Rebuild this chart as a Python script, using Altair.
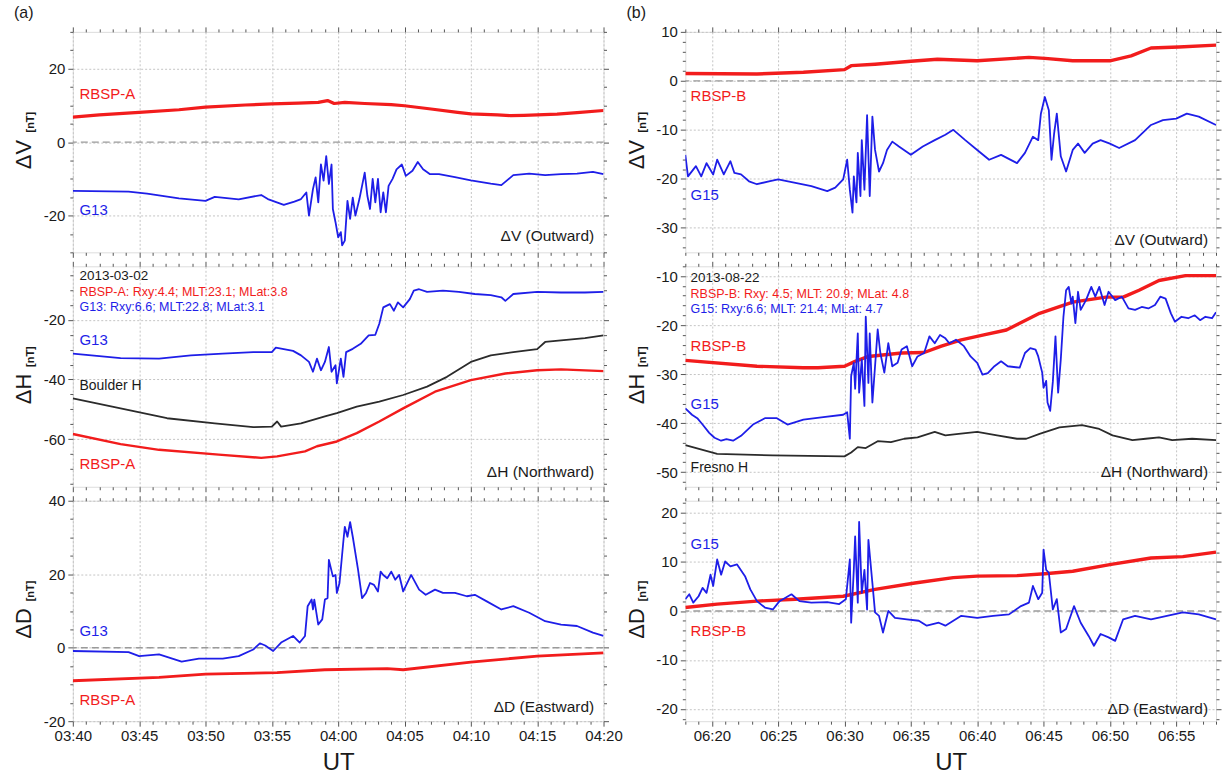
import math
import altair as alt
import pandas as pd

FONT = "Liberation Sans"
RED, BLUE, BLACK, INK = "#f21c1c", "#1e1ee8", "#2b2b2b", "#1a1a1a"

# ---------------- (a) 2013-03-02, minutes after 03:40 UT ----------------
aV_rbsp_t = [0, 2, 5, 8, 10, 13, 15, 17, 18.5, 19.2, 19.7, 20.5, 22, 24, 25, 27, 29, 30, 32, 33, 34, 35, 36.5, 38, 40]
aV_rbsp_v = [6.8, 7.4, 8.1, 8.8, 9.5, 10.1, 10.4, 10.6, 10.8, 11.3, 10.5, 10.8, 10.5, 10.2, 9.9, 9.0, 8.1, 7.7, 7.4, 7.2, 7.3, 7.4, 7.6, 8.0, 8.6]
aV_g13_t = [0, 4.2, 5.6, 8, 10, 10.7, 12.5, 14.2, 14.7, 15.9, 16.7, 17.2, 17.6, 17.8, 18.1, 18.3, 18.5, 18.7, 18.9, 19.1,
            19.3, 19.5, 19.6, 19.8, 20, 20.2, 20.3, 20.5, 20.7, 20.9, 21.1, 21.3, 21.6, 21.8, 22, 22.2, 22.4, 22.6, 22.8, 23,
            23.2, 23.4, 23.6, 23.8, 24.1, 24.4, 24.8, 25.1, 25.6, 26, 26.4, 26.9, 27.6, 28.8, 30, 31.5, 32.3, 33.2, 34.4, 35.6,
            36.8, 38, 39.2, 40]
aV_g13_v = [-13.3, -13.5, -14, -15.3, -16, -14.9, -15.6, -14.4, -15.5, -17.1, -16.2, -15.5, -13.7, -20, -12.8, -9.6, -16.4, -6.1, -10.5, -3.8,
            -11.4, -6.1, -18.2, -21.8, -25.9, -24.5, -28.1, -26.8, -16, -20.9, -15.1, -20, -15.5, -11.9, -8.3, -14.6, -18.2, -10, -16.4, -10,
            -19.1, -13.7, -19.1, -11.9, -10, -7.4, -6.1, -9.2, -7.8, -5.4, -7.4, -8.7, -8.7, -9.5, -10.4, -11.3, -11.7, -9, -8.6, -9,
            -8.7, -8.6, -8.1, -8.7]

aH_g13_t = [0, 3.6, 6.5, 8.9, 11.3, 13.6, 15, 15.3, 16.6, 17.2, 17.8, 18.1, 18.4, 18.7, 19, 19.3, 19.5, 19.8, 19.9, 20.2,
            20.4, 20.6, 21.1, 21.7, 22.3, 22.8, 23.1, 23.4, 23.9, 24.2, 24.5, 24.9, 25.4, 25.7, 26.1, 26.7, 27.9, 29.1, 30.3, 31.5,
            32.3, 32.6, 33.2, 35, 36.8, 38.6, 40]
aH_g13_v = [-31.3, -32.8, -33, -31.9, -31.3, -30.8, -30.8, -29.3, -30.4, -31.9, -34.1, -37.4, -33, -36.9, -34.1, -29.1, -37.4, -35.2, -41.3, -33,
            -39.1, -30.8, -29.7, -28, -25.2, -25, -21.3, -15.8, -14.7, -16.9, -14.1, -15.8, -13, -10.2, -9.7, -10.6, -10.2, -10.6, -11.3, -11.7,
            -12.4, -13.6, -11.3, -10.6, -10.8, -10.8, -10.6]
aH_bou_t = [0, 3.6, 7.1, 10.7, 13.6, 15, 15.4, 15.7, 17.2, 19, 19.9, 21.4, 23.1, 24.9, 26.7, 28.2, 30, 31.5, 33.2, 35, 35.6, 36.8, 38.6, 40]
aH_bou_v = [-46.3, -49.7, -53, -54.7, -56, -55.8, -54.1, -55.8, -54.7, -52.4, -51.3, -49.1, -47.4, -45.2, -42.4, -39.1, -34.1, -31.9, -30.8, -29.8, -27.4, -26.9, -26.1, -25.2]
aH_rbsp_t = [0, 3.6, 6.5, 11, 14.2, 15.4, 17.5, 18.4, 19.9, 21.4, 23.1, 24.9, 27.3, 30, 32.6, 35, 36.8, 40]
aH_rbsp_v = [-58.3, -61.7, -63.6, -65.2, -66.3, -65.8, -64.1, -62.4, -60.8, -58, -54.1, -49.7, -44.1, -40.2, -38, -36.9, -36.6, -37.2]

aD_rbsp_t = [0, 6.5, 10, 15.4, 19, 23.7, 24.9, 30, 35, 40]
aD_rbsp_v = [-9, -8.1, -7.2, -6.8, -6, -5.7, -6, -3.9, -2.3, -1.4]
aD_g13_t = [0, 4.2, 5, 6.5, 8.2, 9.5, 11.3, 12.5, 13.6, 14.1, 14.5, 15.1, 15.7, 16.6, 17.1, 17.5, 17.7, 18, 18.1, 18.2,
            18.5, 18.8, 19, 19.2, 19.3, 19.6, 19.8, 19.9, 20.1, 20.4, 20.5, 20.7, 20.9, 21.1, 21.5, 21.8, 22.1, 22.4, 22.7, 23,
            23.2, 23.4, 23.7, 24, 24.3, 24.6, 24.9, 25.5, 26.1, 26.6, 27.3, 27.9, 28.8, 29.7, 30.3, 31.2, 32.3, 33.2, 34.4, 35.6,
            36.8, 38, 39.2, 40]
aD_g13_v = [-0.9, -1.2, -2.3, -1.8, -3.8, -3, -3, -2.3, -0.5, 1.2, 0.6, -0.9, 1.4, 3.2, 1.4, 3.2, 11.3, 13.1, 10.4, 13.1,
            6.3, 7.7, 13.1, 13.5, 23.9, 19.4, 19.8, 14.9, 17.6, 29.3, 32.9, 30.2, 34.2, 30.2, 21.2, 13.5, 14.9, 17.6, 17.1, 15.3,
            20.7, 19.8, 18.9, 20.7, 18.5, 19.8, 15.3, 19.8, 15.8, 14.4, 15.8, 14.9, 14.9, 14, 14.4, 12.6, 10.4, 11.3, 9.5, 7.2,
            6.3, 5.9, 4.1, 3.2]

# ---------------- (b) 2013-08-22, minutes after 06:18 UT ----------------
bV_rbsp_t = [0, 5.4, 8.9, 12, 12.5, 14.3, 17, 19, 22, 25.9, 27.1, 29.2, 32, 33.6, 35.1, 37.2, 40]
bV_rbsp_v = [1.5, 1.4, 1.75, 2.3, 3.1, 3.4, 4, 4.4, 4.1, 4.8, 4.6, 4.1, 4.1, 5.1, 6.7, 6.9, 7.3]
bV_g15_t = [0, 0.2, 0.8, 1.2, 1.6, 2.1, 2.4, 2.9, 3.4, 3.7, 4.2, 4.8, 5.4, 6.3, 7, 8.3, 9.5, 10.7, 11.3, 11.9,
            12.2, 12.4, 12.6, 12.7, 12.9, 13, 13.2, 13.3, 13.5, 13.7, 13.9, 14.1, 14.3, 14.6, 14.9, 15.2, 15.6, 16.1, 17, 17.9,
            18.8, 19.6, 20.2, 21.1, 22, 22.9, 23.8, 25, 25.6, 26.2, 26.6, 26.8, 27.1, 27.4, 27.6, 27.8, 28, 28.3, 28.7, 29.2,
            29.6, 30.1, 30.7, 31.3, 32, 32.7, 33.9, 35.1, 36, 37, 37.8, 38.7, 40]
bV_g15_v = [-15.1, -19.5, -17.4, -19.5, -16.8, -19.1, -16.1, -19.1, -16.4, -18.8, -19.1, -20.5, -21.1, -20.5, -20.1, -20.8, -21.5, -22.5, -21.8, -20.1,
            -16.1, -22.2, -26.9, -19.5, -24.8, -14.7, -23.5, -12.1, -22.2, -7, -23.5, -7.3, -14.1, -18.5, -16.8, -14.1, -12.4, -13.4, -15.1, -13.4,
            -12.1, -11, -10, -12.1, -14.1, -16.1, -15.1, -16.8, -14.7, -11.4, -12.1, -6.7, -3.3, -6, -16.1, -10.7, -6.7, -15.4, -18.5, -14.1,
            -12.8, -14.7, -12.8, -12.1, -12.8, -13.7, -12.1, -9, -8, -7.7, -6.7, -7.3, -9]

bH_rbsp_t = [0, 5.4, 8.9, 10, 12, 12.8, 13.8, 16.3, 18, 19.3, 20.8, 22.5, 24.2, 26.7, 29.2, 31.7, 33, 34.2, 35.7, 37.7, 40]
bH_rbsp_v = [-27.2, -28.4, -28.7, -28.7, -28.4, -27.4, -26.4, -25.7, -25.6, -24.3, -23, -22, -21, -17.6, -15.3, -14.3, -14.3, -12.9, -10.9, -9.9, -9.9]
bH_g15_t = [0, 0.5, 0.9, 1.3, 1.8, 2.2, 2.7, 3.1, 3.6, 4.2, 5.1, 6, 6.9, 7.7, 8.9, 10.4, 11.9, 12.2,
            12.4, 12.5, 12.7, 12.8, 13, 13.1, 13.3, 13.5, 13.6, 13.8, 13.9, 14.1, 14.3, 14.5, 14.7, 15, 15.3, 15.6, 16, 16.3,
            16.7, 17.1, 17.5, 18, 18.4, 18.8, 19.2, 19.6, 19.9, 20.4, 21, 21.5, 22, 22.4, 22.8, 23.3, 23.8, 24.3, 25.2, 25.6,
            26, 26.4, 26.6, 26.9, 27, 27.2, 27.3, 27.5, 27.7, 27.9, 28.1, 28.3, 28.5, 28.7, 28.9, 29.1, 29.2, 29.4, 29.6, 29.8,
            30.2, 30.6, 30.9, 31.2, 31.6, 31.9, 32.4, 32.9, 33.4, 33.9, 34.4, 34.9, 35.4, 35.8, 36.2, 36.6, 36.9, 37.4, 37.9, 38.4,
            38.8, 39.2, 39.7, 40]
bH_g15_v = [-37, -38.3, -39, -40.3, -42, -43, -43.6, -43.3, -43.6, -42.6, -40.3, -39, -39, -40.3, -39.3, -38.8, -38.3, -37.8,
            -43.2, -30.4, -27.7, -33, -21.7, -33.8, -27, -36.5, -18.3, -31.8, -21.7, -35.8, -28.4, -20.9, -25.7, -29.7, -23.7, -28.4, -27.7, -25,
            -24.3, -28.4, -26.4, -25.7, -22.3, -23.7, -22, -22.7, -23.7, -23, -24.3, -26.4, -27.7, -30.1, -29.8, -28.4, -27.4, -28.4, -28.7, -25.7,
            -24.7, -25, -26.4, -29.7, -32.8, -31.4, -35.8, -37.5, -31.6, -22.3, -33.8, -27, -18.3, -12.9, -12.2, -15.6, -14.2, -19.6, -13.2, -16.9,
            -14.9, -12.2, -14.2, -12.2, -15.9, -13.2, -14.9, -14.2, -16.6, -16.9, -16.3, -16.6, -15.9, -14.2, -14.6, -17.6, -19.3, -18.3, -18.6, -18,
            -19, -18.3, -18.6, -17.4]
bH_fre_t = [0, 2.4, 6.6, 12, 12.5, 13, 13.6, 14.5, 15.5, 16.5, 17.5, 18.8, 19.6, 20.6, 22, 23.5, 25, 25.7, 26.7, 28.2,
            29.9, 31.2, 32.2, 33.7, 34.7, 35.7, 36.7, 38.2, 40]
bH_fre_v = [-44.5, -46.3, -46.6, -46.8, -46, -44.9, -45.1, -43.7, -43.9, -43.2, -42.9, -41.8, -42.5, -42.2, -41.8, -42.5, -43.2, -43.2, -42.2, -40.9,
            -40.4, -41.2, -42.5, -43.5, -43.2, -42.9, -43.5, -43.2, -43.5]

bD_rbsp_t = [0, 2.4, 5.4, 8.3, 11.9, 14.3, 17.3, 20.2, 22, 25, 27.1, 29.2, 32.1, 35.1, 37.5, 40]
bD_rbsp_v = [0.7, 1.4, 2, 2.4, 3, 4.4, 5.7, 6.8, 7.1, 7.2, 7.6, 8.1, 9.5, 10.8, 11.1, 12]
bD_g15_t = [0, 0.3, 0.6, 1, 1.3, 1.6, 1.9, 2.1, 2.4, 2.7, 3, 3.4, 3.9, 4.5, 4.9, 5.4, 6, 6.6, 7.1, 8,
            8.6, 9.5, 10.7, 11.6, 12.1, 12.4, 12.5, 12.7, 12.8, 13, 13.1, 13.3, 13.5, 13.7, 13.8, 14.1, 14.3, 14.6, 14.9, 15.3,
            15.8, 16.7, 17.6, 18.2, 19.1, 19.6, 20.8, 22, 23.2, 24.4, 25.3, 25.9, 26.2, 26.6, 26.9, 27, 27.2, 27.4, 27.7, 28,
            28.3, 28.7, 29.3, 29.8, 30.4, 30.8, 31.3, 31.9, 32.4, 33, 33.9, 35.1, 36.3, 37.5, 38.7, 40]
bD_g15_v = [2.4, 3.4, 1.7, 3, 4.7, 3.7, 7.4, 5.1, 10.5, 7.4, 10.1, 9.1, 9.5, 7.1, 4.4, 2, 0.7, 0.3, 2, 3.4,
            2, 1.7, 1.8, 1.4, 2.4, 10.5, -2.4, 8.4, 15.2, 1.7, 18.2, 3.7, 8.4, 0.3, 14.5, 5.7, -0.3, -1, -4.4, 0,
            -1.4, -1.7, -2, -3, -2.4, -3, -1, -1.4, -1, -0.7, 1, 1.7, 5.1, 2.4, 3.7, 12.5, 8.4, 7.8, 0.3, 2.4,
            -4.4, -3.7, 1, -2.4, -5.1, -7.1, -4.7, -5.4, -6.1, -1.7, -1, -1.7, -1, -0.3, -0.7, -1.7]

# annotation texts
info_a = ["2013-03-02", "RBSP-A: Rxy:4.4; MLT:23.1; MLat:3.8", "G13: Rxy:6.6; MLT:22.8; MLat:3.1"]
info_b = ["2013-08-22", "RBSP-B: Rxy: 4.5; MLT: 20.9; MLat: 4.8", "G15: Rxy:6.6; MLT: 21.4; MLat: 4.7"]

W, H = 532, 221


def series_df(specs):
    rows = []
    for name, ts, vs, color, width in specs:
        assert len(ts) == len(vs), name
        rows += [{"t": t, "v": v, "s": name, "c": color, "w": width} for t, v in zip(ts, vs)]
    return pd.DataFrame(rows)


def time_label_expr(base):
    m = f"({base}+datum.value)"
    return (f"{m}%5==0 ? ((floor({m}/60)<10?'0':'') + floor({m}/60) + ':' + "
            f"(({m}%60)<10?'0':'') + ({m}%60)) : ''")


def panel(specs, ydom, ystep, ymajor, labels, corner, xbase, bottom, ytitle, tag=None, zero=True):
    xs = alt.Scale(domain=[0, 40], nice=False, zero=False)
    ys = alt.Scale(domain=ydom, nice=False, zero=False)
    xvals = list(range(0, 41))
    lo = int(math.ceil(ydom[0] / ystep) * ystep)
    yvals = list(range(lo, int(math.floor(ydom[1])) + 1, ystep))
    xmaj = f"({xbase}+datum.value)%5==0"
    ymaj = f"datum.value%{ymajor}==0"
    tick_x = {"condition": {"test": xmaj, "value": 5}, "value": 3}
    tick_y = {"condition": {"test": ymaj, "value": 5}, "value": 3}
    grid_x = {"condition": {"test": xmaj, "value": 1}, "value": 0}
    grid_y = {"condition": {"test": ymaj, "value": 1}, "value": 0}
    common = dict(domain=False, tickColor="#555555", tickWidth=1, gridColor="#c4c4c4", gridDash=[2, 2],
                  gridWidth=1, labelFont=FONT, labelFontSize=15, labelColor=INK, labelOverlap=False,
                  titleFont=FONT, titleColor=INK, titleFontWeight="normal")
    if bottom:
        xaxis = alt.Axis(values=xvals, tickSize=tick_x, grid=True, gridOpacity=grid_x, labelFlush=False,
                         labelExpr=time_label_expr(xbase), labelPadding=2, title="UT", titleFontSize=24,
                         titlePadding=7, **common)
    else:
        xaxis = alt.Axis(values=xvals, tickSize=tick_x, grid=True, gridOpacity=grid_x, labels=False,
                         title=None, **common)
    yaxis = alt.Axis(values=yvals, tickSize=tick_y, grid=True, gridOpacity=grid_y,
                     labelExpr=f"{ymaj} ? '' + datum.value : ''", labelPadding=3, title=ytitle,
                     titleFontSize=22, titleAngle=270, titleBaseline="bottom", titleX=-37,
                     titleY=H / 2 + 12, **common)
    top_axis = alt.Axis(orient="top", values=xvals, tickSize=tick_x, labels=False, grid=False,
                        title=None, domain=False, tickColor="#555555")
    right_axis = alt.Axis(orient="right", values=yvals, tickSize=tick_y, labels=False, grid=False,
                          title=None, domain=False, tickColor="#555555")

    df = series_df(specs)
    layers = []
    if zero:
        layers.append(alt.Chart(pd.DataFrame({"z": [0]})).mark_rule(
            strokeDash=[7, 4], color="#9a9a9a", strokeWidth=1.4).encode(
            y=alt.Y("z:Q", scale=ys, axis=None)))
    layers.append(alt.Chart(df).mark_line(clip=True, strokeJoin="round").encode(
        x=alt.X("t:Q", scale=xs, axis=xaxis),
        y=alt.Y("v:Q", scale=ys, axis=yaxis),
        detail="s:N",
        color=alt.Color("c:N", scale=None),
        strokeWidth=alt.StrokeWidth("w:Q", scale=None),
    ))
    layers.append(alt.Chart(df).mark_point(opacity=0).encode(
        x=alt.X("t:Q", scale=xs, axis=top_axis),
        y=alt.Y("v:Q", scale=ys, axis=right_axis)))
    tdf = pd.DataFrame(labels, columns=["x", "y", "label", "c", "fs"])
    layers.append(alt.Chart(tdf).mark_text(align="left", baseline="middle", font=FONT).encode(
        x=alt.X("x:Q", scale=xs, axis=None), y=alt.Y("y:Q", scale=ys, axis=None),
        text="label:N", color=alt.Color("c:N", scale=None), size=alt.Size("fs:Q", scale=None)))
    cdf = pd.DataFrame([corner], columns=["x", "y", "label"])
    layers.append(alt.Chart(cdf).mark_text(align="right", baseline="middle", font=FONT, fontSize=15.5,
                                           color=INK).encode(
        x=alt.X("x:Q", scale=xs, axis=None), y=alt.Y("y:Q", scale=ys, axis=None), text="label:N"))
    layers.append(alt.Chart(pd.DataFrame({"u": ["[nT]"]})).mark_text(
        angle=270, align="center", baseline="bottom", font=FONT, fontSize=11, fontWeight="bold",
        color=INK).encode(text="u:N", x=alt.value(-37), y=alt.value(H / 2 - 20)))

    ch = alt.layer(*layers).resolve_axis(x="independent", y="independent").properties(width=W, height=H)
    if tag:
        ch = ch.properties(title=alt.TitleParams(tag, anchor="start", frame="group", dx=-59, offset=4,
                                                 fontSize=16, font=FONT, fontWeight="normal", color=INK))
    return ch


aV = panel([("RBSP-A", aV_rbsp_t, aV_rbsp_v, RED, 3.2), ("G13", aV_g13_t, aV_g13_v, BLUE, 1.8)],
           [-30, 30], 5, 20,
           [(0.5, 13, "RBSP-A", RED, 15), (0.5, -18.6, "G13", BLUE, 15)],
           (39.3, -25.5, "ΔV (Outward)"), 220, False, "ΔV", tag="(a)")
aH = panel([("RBSP-A", aH_rbsp_t, aH_rbsp_v, RED, 2.4), ("Boulder H", aH_bou_t, aH_bou_v, BLACK, 1.8),
            ("G13", aH_g13_t, aH_g13_v, BLUE, 1.8)],
           [-76, -2], 5, 20,
           [(0.5, -5.3, info_a[0], INK, 13.5), (0.5, -10.5, info_a[1], RED, 12.5), (0.5, -15.8, info_a[2], BLUE, 12.5),
            (0.5, -26.7, "G13", BLUE, 15), (0.5, -42.3, "Boulder H", INK, 14), (0.5, -68.3, "RBSP-A", RED, 15)],
           (39.3, -71, "ΔH (Northward)"), 220, False, "ΔH", zero=False)
aD = panel([("RBSP-A", aD_rbsp_t, aD_rbsp_v, RED, 2.8), ("G13", aD_g13_t, aD_g13_v, BLUE, 1.8)],
           [-20, 40], 5, 20,
           [(0.5, 4.6, "G13", BLUE, 15), (0.5, -14.3, "RBSP-A", RED, 15)],
           (39.3, -16.2, "ΔD (Eastward)"), 220, True, "ΔD")

bV = panel([("RBSP-B", bV_rbsp_t, bV_rbsp_v, RED, 3.4), ("G15", bV_g15_t, bV_g15_v, BLUE, 1.8)],
           [-35, 10], 2, 10,
           [(0.4, -3, "RBSP-B", RED, 15), (0.4, -23.2, "G15", BLUE, 15)],
           (39.4, -32.5, "ΔV (Outward)"), 378, False, "ΔV", tag="(b)")
bH = panel([("Fresno H", bH_fre_t, bH_fre_v, BLACK, 1.8), ("RBSP-B", bH_rbsp_t, bH_rbsp_v, RED, 3.4),
            ("G15", bH_g15_t, bH_g15_v, BLUE, 1.8)],
           [-53, -8], 2, 10,
           [(0.4, -10.4, info_b[0], INK, 13.5), (0.4, -13.6, info_b[1], RED, 12.5), (0.4, -16.8, info_b[2], BLUE, 12.5),
            (0.4, -24.2, "RBSP-B", RED, 15), (0.4, -36.2, "G15", BLUE, 15), (0.4, -49.2, "Fresno H", INK, 14)],
           (39.4, -50, "ΔH (Northward)"), 378, False, "ΔH", zero=False)
bD = panel([("RBSP-B", bD_rbsp_t, bD_rbsp_v, RED, 3.4), ("G15", bD_g15_t, bD_g15_v, BLUE, 1.8)],
           [-22.5, 22.5], 2, 10,
           [(0.4, 13.7, "G15", BLUE, 15), (0.4, -4, "RBSP-B", RED, 15)],
           (39.4, -20, "ΔD (Eastward)"), 378, True, "ΔD")

chart = alt.concat(aV, bV, aH, bH, aD, bD, columns=2, spacing={"row": 14, "column": 82},
                   bounds="flush").properties(
    padding={"left": 12, "top": 3, "right": 0, "bottom": 0}
).configure_view(stroke="#5a5a5a", strokeWidth=1.5).configure(background="white", font=FONT)

chart.save("out.html", embed_options={"renderer": "svg", "actions": False})
